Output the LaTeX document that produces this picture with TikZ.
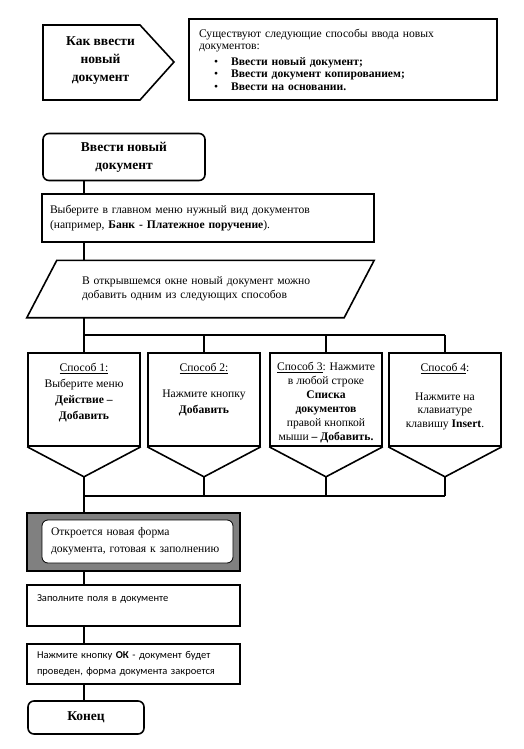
\documentclass[tikz,border=0pt]{standalone}
\usepackage{fontspec}
\setmainfont{Liberation Serif}
\newfontfamily\calfont{Carlito}
\usetikzlibrary{positioning}
\usetikzlibrary{calc}

\begin{document}
\begin{tikzpicture}[x=1pt,y=-1pt]
	\tikzstyle{frame} = [draw=black, line width=1.6pt]
	\tikzstyle{line} = [draw=black, line width=1.6pt]
	\tikzstyle{box} = [rectangle, frame, inner sep=0pt, align=center, fill=white]
	\tikzstyle{bigbold} = [font=\fontsize{13.5}{18}\selectfont\bfseries]
	\tikzstyle{plain} = [font=\fontsize{11.6}{14.5}\selectfont]
	\tikzstyle{sans} = [font=\calfont\fontsize{10.5}{15.5}\selectfont]
	\tikzstyle{terminal} = [box, rounded corners=6pt, bigbold]
	\tikzstyle{way} = [box, minimum width=112pt, minimum height=93pt]
	\tikzstyle{waytext} = [inner sep=0pt, align=center, font=\fontsize{11.6}{16}\selectfont]
	\tikzstyle{stepbox} = [box, minimum width=213pt, text width=193pt, align=left]
	\useasboundingbox (0,0) rectangle (523,749);
	\coordinate (spine) at (84,0);
	% header
	\draw[frame] (43,25) -- (140,25) -- (174,62) -- (140,100) -- (43,100) -- cycle;
	\node (how)[bigbold, align=center] at (100.5,61) {Как ввести\\новый\\документ};
	\node (info)[box, minimum width=308pt, minimum height=81pt, text width=288pt, align=left,
		font=\fontsize{11.6}{12.5}\selectfont] at (343,59.5) {Существуют следующие способы ввода новых\\
		документов:\\[3pt]
		\hspace*{15pt}\textbullet\hspace{13pt}\textbf{Ввести новый документ;}\\
		\hspace*{15pt}\textbullet\hspace{13pt}\textbf{Ввести документ копированием;}\\
		\hspace*{15pt}\textbullet\hspace{13pt}\textbf{Ввести на основании.}};
	% main flow
	\node (start)[terminal, minimum width=162pt, minimum height=47pt] at (124,157) {Ввести новый\\документ};
	\node (choose)[box, plain, minimum width=332pt, minimum height=48pt, text width=316pt, align=left] at (208,218)
		{Выберите в главном меню нужный вид документов\\(например, \textbf{Банк - Платежное поручение}).};
	\node (window)[plain, minimum width=317pt, minimum height=56pt, text width=237pt, align=left, inner sep=0pt] at (200.5,289)
		{В открывшемся окне новый документ можно\\добавить одним из следующих способов};
	\draw[frame] ($(window.north west)+(15,-0.5)$) -- ($(window.north east)+(15,-0.5)$)
		-- ($(window.south east)+(-15,0.5)$) -- ($(window.south west)+(-15,0.5)$) -- cycle;
	\node (way1)[way] at (84,399.5) {};
	\node (way2)[way] at (204,399.5) {};
	\node (way3)[way] at (326,399.5) {};
	\node (way4)[way] at (445,399.5) {};
	\node (text1)[waytext, below=11pt of way1.north] {\underline{Способ 1:}\\Выберите меню\\\textbf{Действие –}\\\textbf{Добавить}};
	\node (text2)[waytext, below=11pt of way2.north] {\underline{Способ 2:}\\[10pt]Нажмите кнопку\\\textbf{Добавить}};
	\node (text3)[waytext, below=10pt of way3.north, font=\fontsize{11.6}{14}\selectfont]
		{\underline{Способ 3}: Нажмите\\в любой строке\\\textbf{Списка}\\\textbf{документов}\\правой кнопкой\\мыши \textbf{– Добавить.}};
	\node (text4)[waytext, below=11pt of way4.north, font=\fontsize{11.6}{13.5}\selectfont]
		{\underline{Способ 4}:\\[15pt]Нажмите на\\клавиатуре\\клавишу \textbf{Insert}.};
	\foreach \i in {1,...,4}
		\draw[frame] (way\i.south west) -- ($(way\i.south)+(0,30)$) coordinate (tip\i) -- (way\i.south east);
	\node (opened)[box, fill=black!50, minimum width=213pt, minimum height=58pt] at (133.5,542) {};
	\node (openedin)[box, line width=0.8pt, rounded corners=6pt, minimum width=191pt, minimum height=43pt,
		text width=173pt, align=left, font=\fontsize{11.6}{17}\selectfont] at (137.5,541.5)
		{Откроется новая форма\\документа, готовая к заполнению};
	\node (fill)[stepbox, sans, minimum height=41pt] at (133.5,605.5) {Заполните поля в документе\\\mbox{}};
	\node (ok)[stepbox, sans, minimum height=40pt] at (133.5,664) {Нажмите кнопку \textbf{ОК} - документ будет\\проведен, форма документа закроется};
	\node (end)[terminal, minimum width=116pt, minimum height=33pt] at (86,717.5) {Конец};
	% connectors
	\coordinate (split) at (84,335);
	\coordinate (join) at (84,496);
	\draw[line] (start.south -| spine) -- (choose.north -| spine);
	\draw[line] (choose.south -| spine) -- (window.north -| spine);
	\draw[line] (window.south -| spine) -- (way1.north);
	\draw[line] (split) -- (split -| way4.north);
	\draw[line] (split -| way2.north) -- (way2.north);
	\draw[line] (split -| way3.north) -- (way3.north);
	\draw[line] (split -| way4.north) -- (way4.north);
	\draw[line] (tip1) -- (opened.north -| spine);
	\draw[line] (join) -- (join -| tip4);
	\draw[line] (tip2) -- (tip2 |- join);
	\draw[line] (tip3) -- (tip3 |- join);
	\draw[line] (tip4) -- (tip4 |- join);
	\draw[line] (opened.south -| spine) -- (fill.north -| spine);
	\draw[line] (fill.south -| spine) -- (ok.north -| spine);
	\draw[line] (ok.south -| spine) -- (end.north -| spine);
\end{tikzpicture}
\end{document}
